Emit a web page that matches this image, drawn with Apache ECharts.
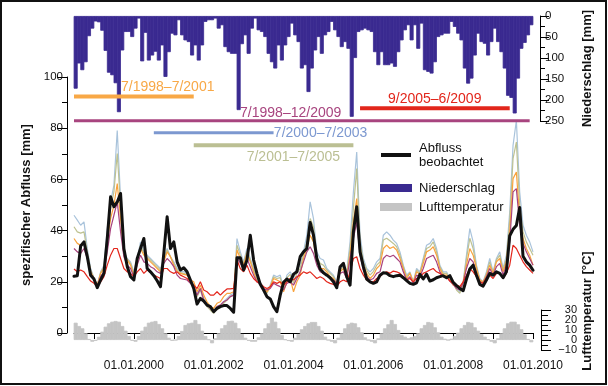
<!DOCTYPE html>
<html>
<head>
<meta charset="utf-8">
<script src="https://cdn.jsdelivr.net/npm/echarts@6/dist/echarts.min.js"></script>
<style>
html, body { margin: 0; padding: 0; background: #fff; }
#chart { width: 608px; height: 386px; }
</style>
</head>
<body>
<div id="chart"></div>
<script>
// monthly values, first month = July 1998
const obsRunoff = [22.2,22.4,34.0,35.6,29.8,22.6,21.1,17.7,20.7,23.3,
  36.9,53.2,49.3,51.2,54.5,33.0,26.0,22.0,20.7,29.1,
  33.0,36.9,25.2,23.9,22.4,20.4,18.1,31.1,45.4,33.0,
  35.6,27.8,24.6,25.5,23.9,20.7,17.4,11.3,13.5,12.5,
  10.9,10.3,8.3,9.6,10.3,10.7,10.7,9.6,8.1,29.4,
  29.4,24.6,28.5,38.2,28.5,23.3,19.0,16.8,14.2,13.3,
  10.3,8.3,14.8,19.8,21.1,20.0,23.0,23.9,29.8,31.7,
  33.0,43.2,38.2,29.1,25.0,23.5,22.6,21.6,20.0,17.7,
  25.9,27.2,22.0,18.7,39.5,49.3,31.7,25.9,21.1,20.0,
  19.4,20.0,22.6,23.5,23.3,22.4,22.0,22.4,22.6,21.6,
  20.5,19.4,19.0,19.6,22.9,21.1,23.0,20.3,20.8,21.6,
  22.0,22.4,21.6,22.4,19.8,18.5,17.4,16.5,21.1,25.0,
  26.5,22.6,19.0,18.3,20.7,23.3,22.6,23.9,23.3,21.6,
  23.9,38.0,40.5,42.0,49.0,30.0,27.8,26.5,24.5];

const simBlue = [46.0,44.1,42.1,43.4,33.0,25.2,21.5,18.7,23.9,26.5,
  40.8,51.2,57.7,79.1,52.5,31.7,29.1,27.8,23.9,29.1,
  35.6,31.7,30.4,29.1,27.8,26.5,25.2,29.1,33.0,29.8,
  27.8,25.2,24.0,24.0,23.3,20.7,18.7,15.5,17.4,13.5,
  11.6,9.6,9.0,10.3,10.9,12.2,13.5,14.8,15.5,36.9,
  31.7,27.8,33.0,29.1,25.2,21.3,20.0,17.4,16.1,18.7,
  22.6,22.0,22.6,17.4,22.6,23.9,21.3,25.2,26.5,31.7,
  38.2,51.2,44.7,31.7,29.1,28.5,25.2,23.9,22.6,20.0,
  25.2,26.5,23.9,35.6,55.1,70.7,38.2,29.1,25.2,23.9,
  25.2,27.8,29.1,38.2,39.5,38.2,36.3,35.0,31.7,26.5,
  22.6,23.9,20.0,25.2,23.9,29.1,34.3,35.0,36.9,33.0,
  26.5,23.9,23.9,21.3,20.0,17.4,16.1,20.0,30.4,40.8,
  35.6,26.5,21.3,20.0,23.9,29.1,23.9,29.1,31.7,25.2,
  30.4,47.3,73.3,83.0,55.1,42.1,38.2,35.6,31.7];

const simOlive = [41.5,39.5,39.0,39.5,31.7,24.6,21.3,18.5,23.5,25.9,
  38.2,48.6,55.1,70.1,49.9,31.1,28.8,27.2,23.3,28.5,
  34.3,31.1,29.8,28.5,27.2,25.9,24.6,28.5,32.4,29.8,
  27.2,24.6,23.6,23.3,22.9,20.3,18.1,14.2,16.8,12.5,
  10.3,8.9,7.7,9.6,10.3,11.6,12.9,14.2,14.8,34.3,
  30.4,27.2,32.0,28.5,24.6,20.7,19.4,16.8,15.5,18.1,
  22.0,21.3,21.6,16.8,21.6,22.9,19.4,23.3,25.2,30.4,
  35.6,44.7,41.5,29.8,27.2,26.5,24.6,23.3,22.0,19.4,
  24.6,25.9,23.3,33.0,48.6,64.2,35.6,27.8,24.6,22.6,
  24.0,26.5,27.8,36.3,37.0,36.0,35.0,33.7,30.4,25.9,
  22.0,23.6,19.4,24.6,23.3,28.5,33.0,33.7,35.6,31.7,
  25.9,23.3,23.3,21.0,19.4,16.8,15.5,19.4,29.1,37.0,
  33.0,25.9,20.7,19.4,23.3,27.8,23.3,28.5,30.4,24.6,
  29.1,44.0,68.1,74.6,49.9,39.5,35.6,33.0,30.4];

const simOrange = [36.9,35.0,34.3,35.6,30.4,23.9,21.3,18.7,23.3,25.2,
  35.6,44.7,49.9,58.4,44.7,30.4,28.5,26.5,22.6,27.8,
  33.0,30.4,29.1,27.8,26.5,25.2,23.9,27.8,31.7,29.8,
  26.5,23.9,23.3,22.9,22.6,20.7,20.0,16.1,18.7,14.8,
  12.2,10.3,9.6,11.6,12.2,14.2,15.5,15.5,16.1,32.4,
  29.1,26.5,31.1,27.8,23.9,20.0,19.4,17.4,16.1,18.1,
  21.3,20.7,20.0,16.1,20.0,21.3,16.1,20.0,22.6,29.1,
  33.0,38.2,35.6,27.8,25.2,25.2,23.9,22.0,21.3,19.4,
  23.9,25.2,22.0,30.4,43.4,52.5,33.0,26.5,23.3,21.3,
  22.6,25.2,26.5,33.0,34.3,33.0,33.7,32.4,29.1,25.2,
  21.3,23.3,20.0,23.9,22.9,27.2,31.7,32.4,33.7,30.4,
  25.2,22.6,22.6,20.7,18.7,18.1,17.4,20.0,26.5,33.0,
  30.4,25.2,20.7,20.0,22.6,26.5,23.3,27.8,29.1,23.9,
  27.8,39.5,60.3,62.9,44.7,36.9,33.0,30.4,26.5];

const simPurple = [33.0,31.7,31.1,33.0,29.1,23.3,21.0,18.4,22.0,23.9,
  31.7,40.8,46.0,51.2,39.5,29.8,26.5,25.2,22.0,26.5,
  30.4,27.8,27.2,25.9,25.2,23.9,23.3,27.2,29.1,27.8,
  25.9,22.6,21.3,21.0,20.7,19.4,18.1,14.8,17.4,12.9,
  10.9,9.6,8.3,10.3,10.9,12.2,12.9,14.2,14.8,29.8,
  27.2,25.2,29.1,25.9,22.6,20.0,19.0,17.4,16.8,17.4,
  19.4,18.7,18.1,16.8,19.4,20.0,18.7,21.3,23.9,27.8,
  31.7,33.7,31.1,26.5,23.9,23.3,22.6,21.3,20.7,19.4,
  23.3,23.9,21.3,29.1,36.9,43.4,30.4,24.6,22.0,20.7,
  21.3,23.3,23.9,29.1,30.4,29.8,30.4,29.1,27.8,23.9,
  20.7,22.0,19.4,22.6,22.0,25.2,29.1,29.8,30.4,27.8,
  23.9,22.0,22.0,20.3,19.0,17.4,16.8,19.4,25.2,29.1,
  27.8,23.3,20.0,19.4,22.0,25.2,22.6,25.9,27.2,22.6,
  26.5,35.6,55.1,56.4,42.1,35.0,31.7,29.1,26.5];

const simRed = [25.0,23.9,24.6,23.9,22.0,20.3,19.4,18.1,20.0,22.0,
  26.5,30.4,33.0,33.0,29.1,25.2,23.9,23.3,22.0,23.9,
  25.2,23.3,24.6,23.9,22.6,22.0,21.3,25.2,25.2,23.9,
  23.3,23.9,22.6,22.0,21.3,20.0,18.7,17.4,20.0,16.8,
  16.1,14.8,14.8,16.1,14.8,16.1,17.2,17.2,17.4,28.5,
  25.2,23.9,26.5,23.3,21.3,20.0,19.4,18.1,17.4,18.1,
  20.0,19.4,20.0,18.7,20.0,21.3,20.7,22.0,22.6,23.9,
  23.3,23.9,22.6,21.3,22.0,21.3,20.0,19.4,19.0,18.1,
  20.0,20.7,20.0,23.9,29.1,29.8,25.2,22.6,20.7,20.0,
  20.0,21.3,22.0,23.3,23.9,23.3,24.2,23.9,23.3,22.0,
  20.7,21.3,20.0,21.3,21.6,23.3,23.9,24.6,25.2,23.9,
  23.3,22.0,22.0,20.3,19.4,18.7,18.1,20.0,22.6,25.2,
  23.9,22.0,20.0,19.4,21.3,22.6,21.3,23.3,23.3,21.3,
  23.3,26.5,34.3,33.0,30.4,27.8,25.9,24.6,23.3];

const precip = [173,113,129,110,48,30,13,15,35,83,
  135,141,160,229,82,38,38,50,30,6,
  108,40,106,94,85,106,70,145,86,42,
  46,10,46,58,62,94,70,106,70,14,
  10,10,6,30,22,74,86,90,90,224,
  67,46,90,30,6,34,38,50,90,110,
  125,70,106,70,50,18,46,62,125,117,
  181,125,82,50,90,46,38,14,34,50,
  74,62,78,240,100,38,34,30,34,38,
  86,117,86,117,117,113,121,86,58,34,
  22,58,22,78,18,129,133,137,110,50,
  46,42,42,14,26,42,58,125,161,149,
  94,42,62,66,94,62,30,62,86,125,
  190,195,232,149,78,64,46,22];

const airTemp = [17.3,14,11.7,6.7,1,-1.7,-0.7,3.3,8.3,13.3,
  16.7,18.3,19,18.3,14,9.3,4,-0.7,-1.7,4,
  9.3,13.3,17.3,18.3,19,16,11.7,6.7,2.3,-0.7,
  0,4,9,15,16.7,17.3,20,16,9.3,4,
  0.7,-3.3,1.7,6.7,11.7,15,19,19.3,17.3,11.7,
  6,2.3,-0.7,-1.7,-1.7,2.7,6.7,11.7,16.7,22.3,
  18.3,11.7,5,0.7,-1,-1.7,2.3,6,10.7,14,
  16.7,18,18,14,9.3,3.3,0,-1.7,-3.3,2.3,
  6.7,11.7,16,17.3,16.7,12.7,7.7,2.7,0,-1.7,
  -3.3,1.7,6.7,11.7,15.7,20,16,10,5,3.3,
  1.7,2.7,4,6.7,11.7,15,18,17.3,12.7,7.7,
  3.3,1.3,0,1.3,4,7.3,11.7,15,18,17.3,
  12.7,9.3,6,3.3,0.7,-1.7,-3.3,1.7,6.7,11.7,
  16.7,18.3,18.3,15.7,10.7,5.7,1,-2.3];

// calibration periods
const periodLabels = ['7/1998–7/2001', '7/1998–12/2009', '7/2000–7/2003', '7/2001–7/2005', '9/2005–6/2009'];
const periodStart = ['1998-07', '1998-07', '2000-07', '2001-07', '2005-09'];
const periodEnd = ['2001-07', '2009-12', '2003-07', '2005-07', '2009-06'];
const periodLevel = [92.4, 82.9, 78.2, 73.3, 87.8];

const tickYears = [1999, 2000, 2001, 2002, 2003, 2004, 2005, 2006, 2007, 2008, 2009, 2010];
const labelYears = [2000, 2002, 2004, 2006, 2008, 2010];
// temperature labels split over two axes so none get dropped for overlap
const tempLabelsA = [-10, 10, 30];
const tempLabelsB = [0, 20];

const font = 'Liberation Sans, Arial, Helvetica, sans-serif';
const periodColors = ['#F8A846', '#A8457F', '#7C98D0', '#BBBF93', '#E2261B'];
const periodWidths = [4, 3, 3, 4, 4];
const periodLabelOffset = [[-26, -9], [-239, -8], [47, 0], [-60, 12], [-75, -9]];

// x is measured in decimal years
const ym = s => { const p = s.split('-').map(Number); return p[0] + (p[1] - 1) / 12; };
const monthStart = i => 1998.5 + i / 12;
const monthMid = i => 1998.5 + (i + 0.5) / 12;
const xMin = 1998.5;
const xMax = 2010;

const asLine = arr => arr.map((v, i) => [monthStart(i), v]);
const asBars = arr => arr.map((v, i) => [monthMid(i), v]);

const chart = echarts.init(document.getElementById('chart'), null, { renderer: 'canvas' });

const simSeries = [
  ['Sim 7/2000–7/2003', simBlue, '#A9C3DB'],
  ['Sim 7/2001–7/2005', simOlive, '#BEC291'],
  ['Sim 7/1998–7/2001', simOrange, '#F9A33C'],
  ['Sim 7/1998–12/2009', simPurple, '#A8437E'],
  ['Sim 9/2005–6/2009', simRed, '#E3261C']
].map(s => ({
  name: s[0], type: 'line', xAxisIndex: 0, yAxisIndex: 0,
  data: asLine(s[1]), symbol: 'none',
  lineStyle: { color: s[2], width: 1.2 }, itemStyle: { color: s[2] }
}));

const periodSeries = periodLabels.map((lab, k) => ({
  name: lab, type: 'line', xAxisIndex: 0, yAxisIndex: 0,
  data: [[ym(periodStart[k]), periodLevel[k]], [ym(periodEnd[k]), periodLevel[k]]],
  symbol: 'none',
  lineStyle: { color: periodColors[k], width: periodWidths[k], cap: 'butt' },
  endLabel: {
    show: true, formatter: lab, color: periodColors[k],
    fontFamily: font, fontSize: 14, align: 'center', verticalAlign: 'middle',
    distance: 0, offset: periodLabelOffset[k]
  }
}));

const hiddenX = idx => ({
  type: 'value', gridIndex: idx, min: xMin, max: xMax, show: false
});

const tempLabel = values => ({
  customValues: values,
  fontFamily: font, fontSize: 11, color: '#111', margin: 36, align: 'right',
  showMinLabel: true, showMaxLabel: true, hideOverlap: false,
  formatter: v => v < 0 ? '\u2212' + Math.abs(v) : String(v)
});

const legendText = { fontFamily: font, fontSize: 13, color: '#111', lineHeight: 14, padding: [0, 0, 0, 3] };

const option = {
  animation: false,
  backgroundColor: '#fff',
  grid: [
    { left: 74, right: 75, top: 77, bottom: 53 },
    { left: 74, right: 75, top: 16, height: 105 },
    { left: 74, right: 75, top: 310, height: 40 }
  ],
  legend: {
    orient: 'vertical', left: 375, top: 129,
    itemWidth: 30, itemHeight: 6, itemGap: 5,
    selectedMode: false,
    textStyle: legendText,
    formatter: n => n === 'Abfluss beobachtet' ? 'Abfluss\nbeobachtet' : n,
    data: [
      { name: 'Abfluss beobachtet', icon: 'path://M0,0 L30,0 L30,4 L0,4 Z',
        textStyle: Object.assign({}, legendText, { padding: [14, 0, 0, 3] }) },
      { name: 'Niederschlag', icon: 'rect' },
      { name: 'Lufttemperatur', icon: 'rect' }
    ]
  },
  xAxis: [
    {
      type: 'value', gridIndex: 0, min: xMin, max: xMax, position: 'bottom', offset: 15,
      axisLine: { lineStyle: { color: '#000', width: 1 } },
      axisTick: { length: 6, lineStyle: { color: '#000' }, customValues: tickYears },
      axisLabel: {
        customValues: labelYears,
        formatter: v => '01.01.' + Math.round(v),
        fontFamily: font, fontSize: 12, color: '#111', margin: 12
      },
      splitLine: { show: false }
    },
    hiddenX(1),
    hiddenX(2)
  ],
  yAxis: [
    {
      type: 'value', gridIndex: 0, position: 'left', offset: 7,
      min: 0, max: 100, interval: 20,
      axisLine: { show: true, lineStyle: { color: '#000' } },
      axisTick: { show: true, length: 10, lineStyle: { color: '#000' } },
      minorTick: { show: true, splitNumber: 2, length: 5, lineStyle: { color: '#000' } },
      splitLine: { show: false },
      axisLabel: { fontFamily: font, fontSize: 11.5, color: '#111', margin: 4 },
      name: 'spezifischer Abfluss [mm]', nameLocation: 'middle', nameGap: 29, nameRotate: 90,
      nameTextStyle: { fontFamily: font, fontSize: 13, fontWeight: 'bold', color: '#111' }
    },
    {
      type: 'value', gridIndex: 1, position: 'right', offset: 7, inverse: true,
      min: 0, max: 250, interval: 50,
      axisLine: { show: true, lineStyle: { color: '#000' } },
      axisTick: { show: true, length: 9, lineStyle: { color: '#000' } },
      minorTick: { show: true, splitNumber: 2, length: 5, lineStyle: { color: '#000' } },
      splitLine: { show: false },
      axisLabel: { fontFamily: font, fontSize: 11.5, color: '#111', margin: 5 },
      name: 'Niederschlag [mm]', nameLocation: 'middle', nameGap: 41, nameRotate: 90,
      nameTextStyle: { fontFamily: font, fontSize: 13, fontWeight: 'bold', color: '#111' }
    },
    {
      type: 'value', gridIndex: 2, position: 'right', offset: 8,
      min: -10, max: 30, interval: 10,
      axisLine: { show: true, lineStyle: { color: '#000' } },
      axisTick: { show: true, length: 10, lineStyle: { color: '#000' } },
      minorTick: { show: true, splitNumber: 2, length: 7, lineStyle: { color: '#000' } },
      splitLine: { show: false },
      axisLabel: tempLabel(tempLabelsA)
    },
    {
      type: 'value', gridIndex: 2, position: 'right', offset: 8,
      min: -10, max: 30, interval: 10,
      axisLine: { show: false }, axisTick: { show: false }, minorTick: { show: false },
      splitLine: { show: false },
      axisLabel: tempLabel(tempLabelsB)
    }
  ],
  graphic: [
    {
      type: 'text', x: 587, y: 311, rotation: Math.PI / 2,
      style: { text: 'Lufttemperatur [°C]', font: 'bold 13px ' + font, fill: '#111', align: 'center', verticalAlign: 'middle' }
    },
    {
      type: 'rect', shape: { x: 1, y: 1, width: 605, height: 383 },
      style: { fill: 'none', stroke: '#111', lineWidth: 2 }, silent: true
    }
  ],
  series: [
    {
      name: 'Niederschlag', type: 'bar', xAxisIndex: 1, yAxisIndex: 1,
      data: asBars(precip), barWidth: 4,
      itemStyle: { color: '#3A2A90', borderColor: '#3A2A90', borderWidth: 0.8 }
    },
    {
      name: 'Lufttemperatur', type: 'bar', xAxisIndex: 2, yAxisIndex: 2,
      data: asBars(airTemp), barWidth: 4,
      itemStyle: { color: '#C4C4C4', borderColor: '#C4C4C4', borderWidth: 0.8 }
    },
    ...simSeries,
    {
      name: 'Abfluss beobachtet', type: 'line', xAxisIndex: 0, yAxisIndex: 0,
      data: asLine(obsRunoff), symbol: 'none',
      lineStyle: { color: '#111', width: 3, cap: 'round', join: 'round' },
      itemStyle: { color: '#111' }
    },
    ...periodSeries
  ]
};

chart.setOption(option);
window.addEventListener('resize', chart.resize);
</script>
</body>
</html>
